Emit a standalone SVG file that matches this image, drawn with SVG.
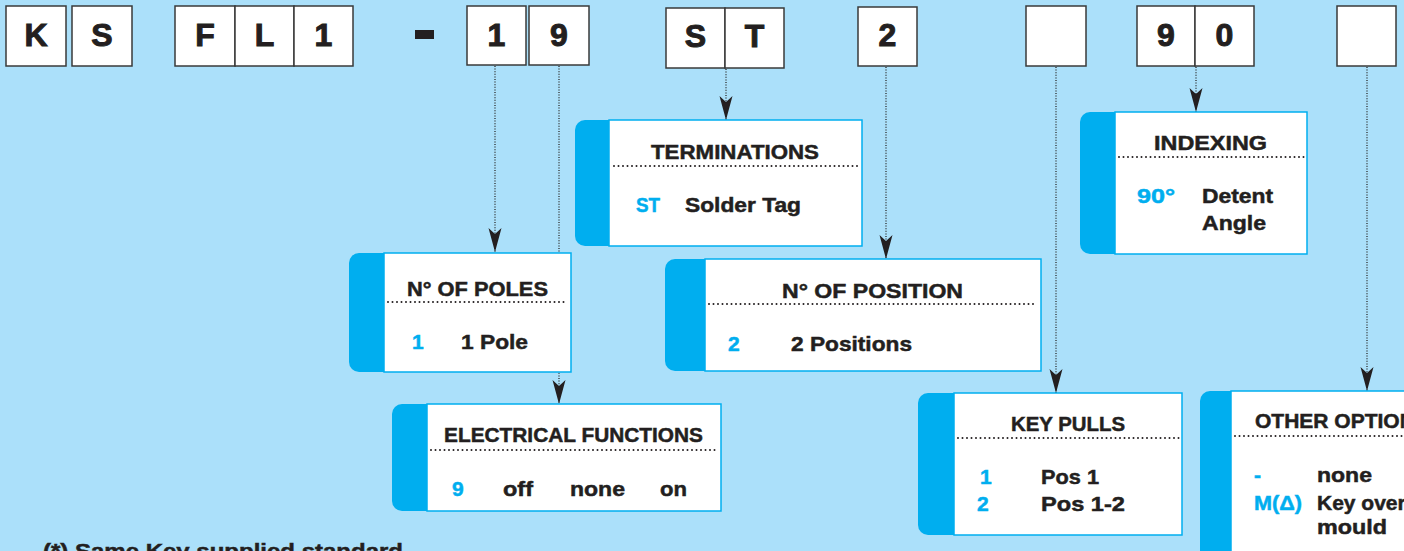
<svg xmlns="http://www.w3.org/2000/svg" width="1404" height="551" viewBox="0 0 1404 551">
<style>
.bg{fill:#abe0fa}
.cell{fill:#ffffff;stroke:#3a3a3a;stroke-width:1.5}
.big{font-family:"Liberation Sans",Arial,sans-serif;font-weight:bold;font-size:32px;fill:#231f20;stroke:#231f20;stroke-width:1;text-anchor:middle}
.conn{stroke:#2a2a2a;stroke-width:1.3;stroke-dasharray:1 1.6;fill:none}
.card{fill:#ffffff;stroke:#00aeef;stroke-width:1.5}
.tab{fill:#00aeef}
.sep{stroke:#231f20;stroke-width:2;stroke-dasharray:0 4.5;stroke-linecap:round;fill:none}
.t{font-family:"Liberation Sans",Arial,sans-serif;font-weight:bold;font-size:21px;fill:#231f20;stroke:#231f20;stroke-width:0.5}
.title{text-anchor:middle}
.k{fill:#00aeef;stroke:#00aeef}
</style>
<defs>
<marker id="arr" markerUnits="userSpaceOnUse" markerWidth="24" markerHeight="14" viewBox="0 0 24 14" refX="24" refY="7" orient="auto">
<path d="M0,0.5 L6,7 L0,13.5 L24,7 Z" fill="#231f20"/>
</marker>
</defs>
<rect class="bg" x="0" y="0" width="1404" height="551"/>

<g id="code">
<rect class="cell" x="6" y="6" width="60" height="60"/><text class="big" x="36" y="46">K</text>
<rect class="cell" x="72" y="6" width="60" height="60"/><text class="big" x="102" y="46">S</text>
<rect class="cell" x="175" y="6" width="60" height="60"/><text class="big" x="205" y="46">F</text>
<rect class="cell" x="235" y="6" width="59" height="60"/><text class="big" x="264.5" y="46">L</text>
<rect class="cell" x="294" y="6" width="59" height="60"/><text class="big" x="323.5" y="46">1</text>
<rect x="415" y="30" width="19" height="9" fill="#231f20"/>
<rect class="cell" x="467" y="6" width="59" height="59"/><text class="big" x="496.5" y="46">1</text>
<rect class="cell" x="529" y="6" width="60" height="59"/><text class="big" x="559" y="46">9</text>
<rect class="cell" x="666" y="8" width="59" height="60"/><text class="big" x="695.5" y="47">S</text>
<rect class="cell" x="725" y="8" width="59" height="60"/><text class="big" x="754.5" y="47">T</text>
<rect class="cell" x="858" y="7" width="59" height="59"/><text class="big" x="887.5" y="46">2</text>
<rect class="cell" x="1026" y="6" width="60" height="60"/>
<rect class="cell" x="1137" y="6" width="58" height="60"/><text class="big" x="1166" y="46">9</text>
<rect class="cell" x="1195" y="6" width="59" height="60"/><text class="big" x="1224.5" y="46">0</text>
<rect class="cell" x="1337" y="6" width="59" height="60"/>
</g>

<g id="connectors">
<line class="conn" x1="495" y1="66" x2="495" y2="252" marker-end="url(#arr)"/>
<line class="conn" x1="559" y1="66" x2="559" y2="404" marker-end="url(#arr)"/>
<line class="conn" x1="726" y1="69" x2="726" y2="120" marker-end="url(#arr)"/>
<line class="conn" x1="886" y1="67" x2="886" y2="259" marker-end="url(#arr)"/>
<line class="conn" x1="1056" y1="67" x2="1056" y2="393" marker-end="url(#arr)"/>
<line class="conn" x1="1196" y1="67" x2="1196" y2="112" marker-end="url(#arr)"/>
<line class="conn" x1="1367" y1="67" x2="1367" y2="391" marker-end="url(#arr)"/>
</g>

<g id="poles">
<path class="tab" d="M384,253 H359 A10,10 0 0 0 349,263 V362 A10,10 0 0 0 359,372 H384 Z"/>
<rect class="card" x="384" y="253" width="187" height="119"/>
<text class="t title" x="477.5" y="296" textLength="141" lengthAdjust="spacingAndGlyphs">N° OF POLES</text>
<line class="sep" x1="388" y1="302" x2="568" y2="302"/>
<text class="t k" x="412" y="349">1</text>
<text class="t" x="461" y="349" textLength="67" lengthAdjust="spacingAndGlyphs">1 Pole</text>
</g>

<g id="electrical">
<path class="tab" d="M427,404 H402 A10,10 0 0 0 392,414 V501 A10,10 0 0 0 402,511 H427 Z"/>
<rect class="card" x="427" y="404" width="294" height="107"/>
<text class="t title" x="573.5" y="442" textLength="259" lengthAdjust="spacingAndGlyphs">ELECTRICAL FUNCTIONS</text>
<line class="sep" x1="431" y1="450" x2="718" y2="450"/>
<text class="t k" x="452" y="496">9</text>
<text class="t" x="503" y="496" textLength="30" lengthAdjust="spacingAndGlyphs">off</text>
<text class="t" x="570" y="496" textLength="55" lengthAdjust="spacingAndGlyphs">none</text>
<text class="t" x="660" y="496" textLength="27" lengthAdjust="spacingAndGlyphs">on</text>
</g>

<g id="terminations">
<path class="tab" d="M609,120 H585 A10,10 0 0 0 575,130 V236 A10,10 0 0 0 585,246 H609 Z"/>
<rect class="card" x="609" y="120" width="253" height="126"/>
<text class="t title" x="735" y="159" textLength="168" lengthAdjust="spacingAndGlyphs">TERMINATIONS</text>
<line class="sep" x1="614" y1="166" x2="858" y2="166"/>
<text class="t k" x="636" y="212" textLength="24" lengthAdjust="spacingAndGlyphs">ST</text>
<text class="t" x="685" y="212" textLength="116" lengthAdjust="spacingAndGlyphs">Solder Tag</text>
</g>

<g id="position">
<path class="tab" d="M705,259 H675 A10,10 0 0 0 665,269 V361 A10,10 0 0 0 675,371 H705 Z"/>
<rect class="card" x="705" y="259" width="336" height="112"/>
<text class="t title" x="872.5" y="298" textLength="181" lengthAdjust="spacingAndGlyphs">N° OF POSITION</text>
<line class="sep" x1="709" y1="304" x2="1037" y2="304"/>
<text class="t k" x="728" y="351">2</text>
<text class="t" x="791" y="351" textLength="121" lengthAdjust="spacingAndGlyphs">2 Positions</text>
</g>

<g id="indexing">
<path class="tab" d="M1115,112 H1090 A10,10 0 0 0 1080,122 V244 A10,10 0 0 0 1090,254 H1115 Z"/>
<rect class="card" x="1115" y="112" width="192" height="142"/>
<text class="t title" x="1210.5" y="150" textLength="113" lengthAdjust="spacingAndGlyphs">INDEXING</text>
<line class="sep" x1="1119" y1="157" x2="1304" y2="157"/>
<text class="t k" x="1137" y="203" textLength="38" lengthAdjust="spacingAndGlyphs">90°</text>
<text class="t" x="1202" y="203" textLength="71" lengthAdjust="spacingAndGlyphs">Detent</text>
<text class="t" x="1202" y="230" textLength="64" lengthAdjust="spacingAndGlyphs">Angle</text>
</g>

<g id="keypulls">
<path class="tab" d="M954,393 H928 A10,10 0 0 0 918,403 V525 A10,10 0 0 0 928,535 H954 Z"/>
<rect class="card" x="954" y="393" width="228" height="142"/>
<text class="t title" x="1068" y="431" textLength="114" lengthAdjust="spacingAndGlyphs">KEY PULLS</text>
<line class="sep" x1="958" y1="438" x2="1179" y2="438"/>
<text class="t k" x="980" y="484">1</text>
<text class="t" x="1041" y="484" textLength="58" lengthAdjust="spacingAndGlyphs">Pos 1</text>
<text class="t k" x="977" y="511">2</text>
<text class="t" x="1041" y="511" textLength="84" lengthAdjust="spacingAndGlyphs">Pos 1-2</text>
</g>

<g id="options">
<path class="tab" d="M1231,391 H1210 A10,10 0 0 0 1200,401 V560 H1231 Z"/>
<rect class="card" x="1231" y="391" width="220" height="180"/>
<text class="t" x="1255" y="428">OTHER OPTIONS</text>
<line class="sep" x1="1235" y1="436" x2="1410" y2="436"/>
<text class="t k" x="1254" y="482">-</text>
<text class="t" x="1317" y="482" textLength="55" lengthAdjust="spacingAndGlyphs">none</text>
<text class="t k" x="1254" y="510" textLength="48" lengthAdjust="spacingAndGlyphs">M(Δ)</text>
<text class="t" x="1317" y="510">Key over</text>
<text class="t" x="1317" y="534" textLength="70" lengthAdjust="spacingAndGlyphs">mould</text>
</g>

<g id="footnote">
<text class="t" x="43" y="558" textLength="360" lengthAdjust="spacingAndGlyphs">(*) Same Key supplied standard</text>
</g>
</svg>
